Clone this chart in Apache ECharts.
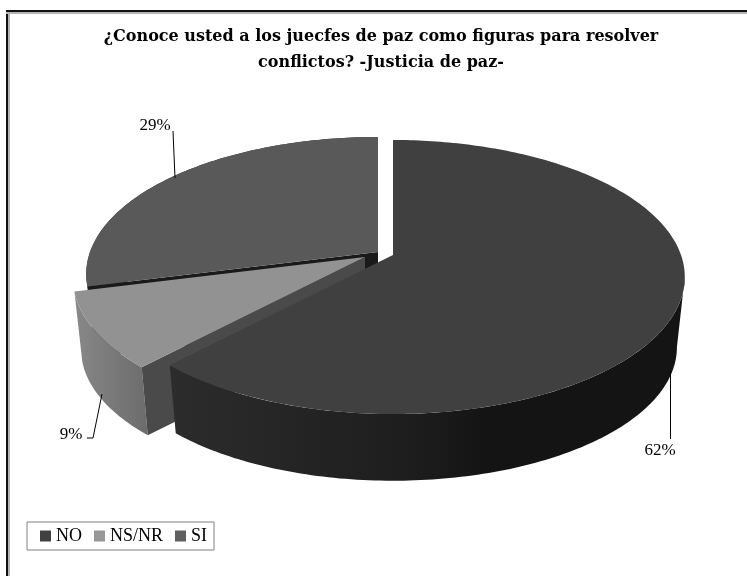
<!DOCTYPE html>
<html><head><meta charset="utf-8">
<style>html,body{margin:0;padding:0;background:#fff}#c{width:747px;height:576px}</style>
<script src="https://cdn.jsdelivr.net/npm/echarts@6/dist/echarts.min.js"></script>
</head><body><div id="c"></div>
<script>
var categories = ['NO', 'NS/NR', 'SI'];
var values = [62, 9, 29];
var titleLines = ['¿Conoce usted a los juecfes de paz como figuras para resolver', 'conflictos? -Justicia de paz-'];

var chart = echarts.init(document.getElementById('c'), null, {renderer: 'canvas'});
var FONT = '"Liberation Serif"';
var P = 0.1606, A = 133.5, B = 288, DEPTH = 71, SHRINK = 0.973, TANGENT = 99.2;
var total = values.reduce(function (a, b) { return a + b; }, 0);
var styles = [
  {apex: [393, 255], top: '#404040', radial: null,
   wall: [[0, '#2c2c2c'], [0.45, '#1e1e1e'], [0.62, '#141414'], [1, '#141414']],
   label: [660, 451], leader: [[670.5, 371], [670.5, 439]], z: 3},
  {apex: [365, 257], top: '#929292', radial: '#4a4a4a',
   wall: [[0, '#888888'], [1, '#6c6c6c']],
   label: [71, 435], leader: [[102, 394], [93, 438], [87, 438]], z: 2},
  {apex: [378, 252], top: '#595959', radial: '#1a1a1a',
   wall: [[0, '#333333'], [1, '#333333']],
   label: [155, 126], leader: [[175, 178], [173, 131]], z: 1}
];
function pt(apex, deg, lower) {
  var t = deg * Math.PI / 180, X = Math.sin(t), Y = -Math.cos(t), w = 1 - P * Y;
  var s = lower ? SHRINK : 1;
  return [apex[0] + s * B * X / w, apex[1] + (lower ? DEPTH : 0) + s * A * Y / w];
}
function arc(apex, a, b, lower) {
  var out = [], n = Math.max(2, Math.ceil(Math.abs(b - a)));
  for (var i = 0; i <= n; i++) out.push(pt(apex, a + (b - a) * i / n, lower));
  return out;
}
function range(idx) {
  var s = 0;
  for (var i = 0; i < idx; i++) s += values[i];
  return [s / total * 360, (s + values[idx]) / total * 360];
}
function renderSlice(idx) {
  return function (params, api) {
    var st = styles[idx], r = range(idx), a = r[0], b = r[1], apex = st.apex, kids = [];
    var stops = st.wall.map(function (w) { return {offset: w[0], color: w[1]}; });
    var grad = new echarts.graphic.LinearGradient(0, 0, 1, 0, stops);
    var wallFrom = Math.max(a, TANGENT);
    kids.push({type: 'polygon', shape: {points: arc(apex, wallFrom, b, false).concat(arc(apex, b, wallFrom, true))},
      style: {fill: grad}});
    if (st.radial) {
      var ap2 = [apex[0], apex[1] + DEPTH];
      kids.push({type: 'polygon', shape: {points: [apex, pt(apex, a, false), pt(apex, a, true), ap2]}, style: {fill: st.radial}});
    }
    kids.push({type: 'polygon', shape: {points: [apex].concat(arc(apex, a, b, false))}, style: {fill: st.top}});
    kids.push({type: 'polyline', shape: {points: st.leader}, style: {stroke: '#000', lineWidth: 1, fill: 'none'}, z2: 5});
    kids.push({type: 'text', x: st.label[0], y: st.label[1],
      style: {text: api.value(0) + '%', fill: '#000', font: '17px ' + FONT, textAlign: 'center', textVerticalAlign: 'middle'}, z2: 5});
    return {type: 'group', children: kids};
  };
}
var series = categories.map(function (name, i) {
  return {type: 'custom', name: name, coordinateSystem: 'none', data: [[values[i]]], z: styles[i].z,
    itemStyle: {color: ['#404040', '#969696', '#5f5f5f'][i]}, silent: true, animation: false,
    renderItem: renderSlice(i)};
});
function rule(x, y, w, h, c) {
  return {type: 'rect', shape: {x: x, y: y, width: w, height: h}, style: {fill: c}, silent: true};
}
chart.setOption({
  animation: false,
  backgroundColor: '#fff',
  graphic: [rule(6, 12, 4, 564, '#b4b4b4'), rule(6, 12, 2, 564, '#111'),
            rule(6, 10, 741, 4, '#b4b4b4'), rule(6, 10, 741, 2, '#111')],
  title: {text: titleLines.join('\n'), left: 381, top: 24, padding: 0, textAlign: 'center',
    textStyle: {fontFamily: '"DejaVu Serif"', fontWeight: 'bold', fontSize: 16, color: '#000', lineHeight: 26}},
  legend: {data: categories, left: 27, top: 522, orient: 'horizontal', itemWidth: 11, itemHeight: 11, itemGap: 12,
    icon: 'rect', borderColor: '#808080', borderWidth: 1, padding: [5, 7, 5, 13], selectedMode: false,
    textStyle: {fontFamily: FONT, fontSize: 18, color: '#000'}},
  series: series
});
</script></body></html>
